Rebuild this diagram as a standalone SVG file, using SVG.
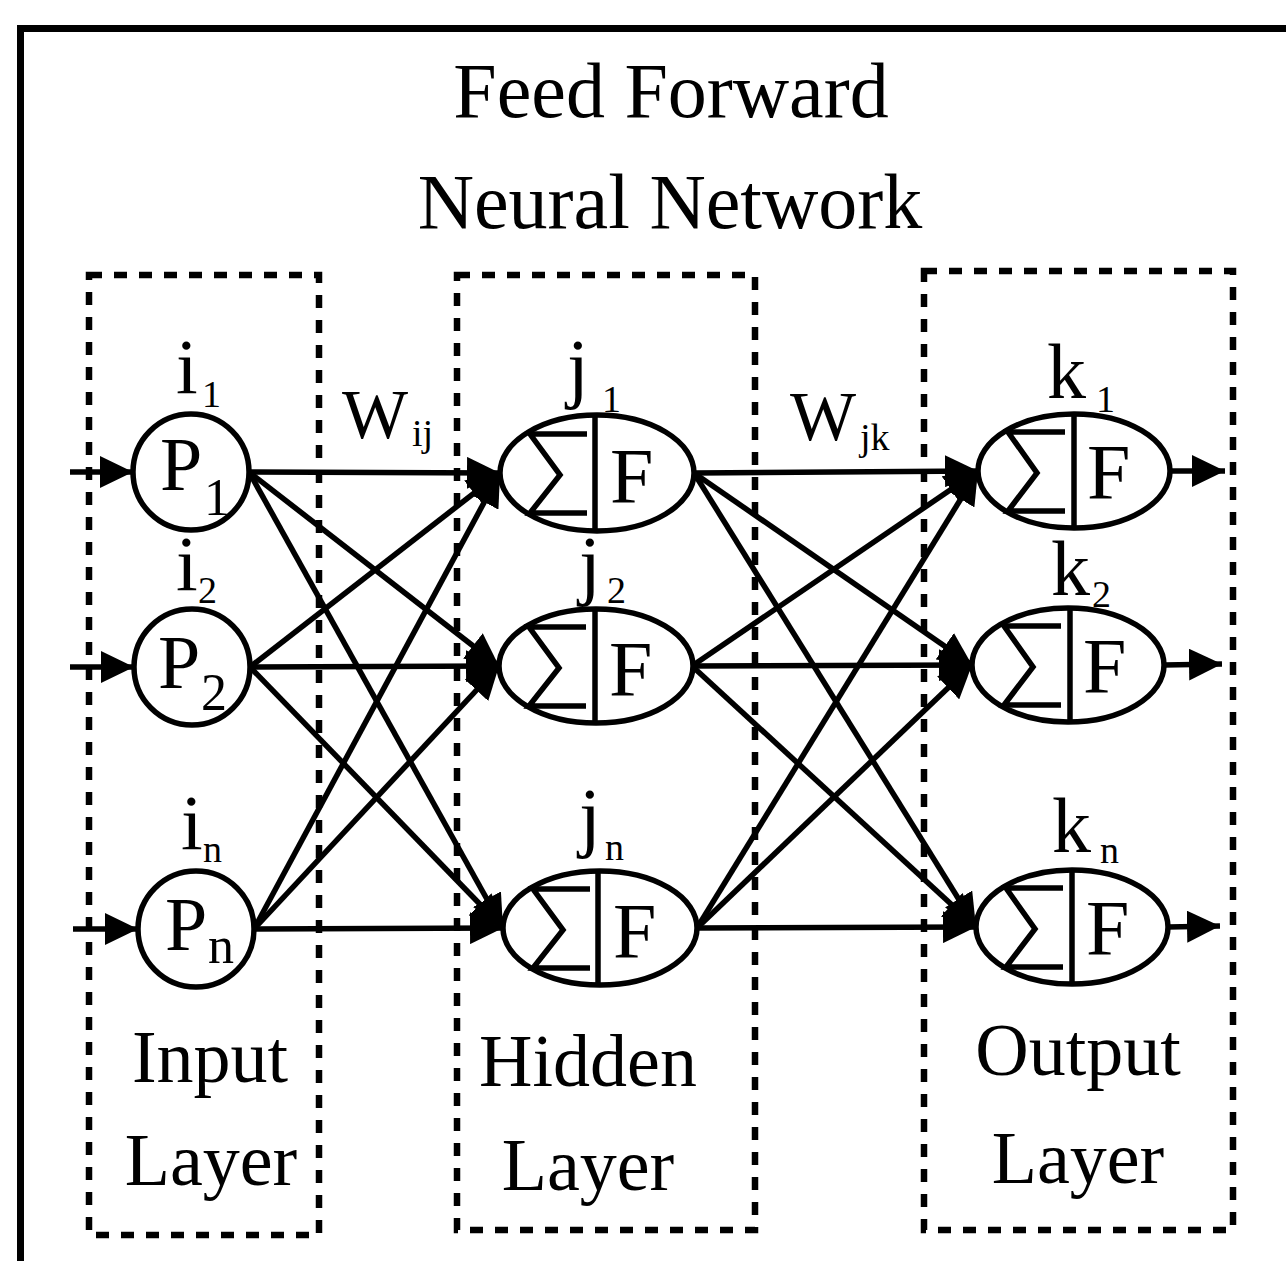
<svg xmlns="http://www.w3.org/2000/svg" width="1286" height="1261" viewBox="0 0 1286 1261">
<style>
text{font-family:"Liberation Serif","Times New Roman",serif;fill:#000}
.big{font-size:78px}
.pl{font-size:76px}
.lab{font-size:74px}
.sub{font-size:38px}
.psub{font-size:52px}
.box{fill:none;stroke:#000;stroke-width:6.5;stroke-dasharray:13 12}
.shape{fill:#fff;stroke:#000;stroke-width:5.5}
.ln{fill:none;stroke:#000;stroke-width:5.5}
.conn line{stroke:#000;stroke-width:5.5;marker-end:url(#ah)}
</style>
<defs>
<marker id="ah" markerUnits="userSpaceOnUse" markerWidth="34" markerHeight="32" refX="33" refY="16" orient="auto">
<path d="M0,0 L33,16 L0,32 Z" fill="#000"/>
</marker>
</defs>
<rect width="1286" height="1261" fill="#fff"/>
<path d="M20.5,1261 V28.5 H1286" fill="none" stroke="#000" stroke-width="7"/>
<g id="title">
<text class="big" x="671" y="117" text-anchor="middle">Feed Forward</text>
<text class="big" x="670" y="228" text-anchor="middle">Neural Network</text>
</g>
<g id="layer-boxes">
<rect class="box" x="89" y="275" width="230" height="960"/>
<rect class="box" x="457" y="275" width="298" height="955"/>
<rect class="box" x="924" y="271" width="309" height="959"/>
</g>
<g id="layer-labels">
<text class="lab" x="210" y="1082" text-anchor="middle">Input</text>
<text class="lab" x="211" y="1185" text-anchor="middle">Layer</text>
<text class="lab" x="588" y="1086" text-anchor="middle">Hidden</text>
<text class="lab" x="588" y="1190" text-anchor="middle">Layer</text>
<text class="lab" x="1078" y="1075" text-anchor="middle">Output</text>
<text class="lab" x="1078" y="1183" text-anchor="middle">Layer</text>
</g>
<g id="weights">
<text style="font-size:70px" x="342" y="438">W</text><text class="sub" x="412" y="446">ij</text>
<text style="font-size:70px" x="790" y="440">W</text><text class="sub" x="860" y="450">jk</text>
</g>
<g id="connectors" class="conn">
<line x1="70" y1="472" x2="133" y2="472"/>
<line x1="70" y1="667" x2="134" y2="667"/>
<line x1="73" y1="929" x2="138" y2="929"/>
<line x1="249" y1="472" x2="500" y2="473"/>
<line x1="249" y1="472" x2="499" y2="666"/>
<line x1="249" y1="472" x2="503" y2="928"/>
<line x1="250" y1="667" x2="500" y2="473"/>
<line x1="250" y1="667" x2="499" y2="666"/>
<line x1="250" y1="667" x2="503" y2="928"/>
<line x1="254" y1="929" x2="500" y2="473"/>
<line x1="254" y1="929" x2="499" y2="666"/>
<line x1="254" y1="929" x2="503" y2="928"/>
<line x1="694" y1="473" x2="978" y2="471"/>
<line x1="694" y1="473" x2="972" y2="665"/>
<line x1="694" y1="473" x2="976" y2="927"/>
<line x1="692" y1="666" x2="978" y2="471"/>
<line x1="692" y1="666" x2="972" y2="665"/>
<line x1="692" y1="666" x2="976" y2="927"/>
<line x1="697" y1="928" x2="978" y2="471"/>
<line x1="697" y1="928" x2="972" y2="665"/>
<line x1="697" y1="928" x2="976" y2="927"/>
<line x1="1170" y1="471" x2="1225" y2="471"/>
<line x1="1164" y1="665" x2="1222" y2="664"/>
<line x1="1168" y1="927" x2="1220" y2="926"/>
</g>
<g id="node-p1">
<circle class="shape" cx="191" cy="472" r="58"/>
<text class="pl" x="160" y="490">P</text><text class="psub" x="204" y="515">1</text>
<text class="big" x="176" y="393">i</text><text class="sub" x="202" y="407">1</text>
</g>
<g id="node-p2">
<circle class="shape" cx="192" cy="667" r="58"/>
<text class="pl" x="158" y="688">P</text><text class="psub" x="201" y="710">2</text>
<text class="big" x="176" y="590">i</text><text class="sub" x="198" y="603">2</text>
</g>
<g id="node-pn">
<circle class="shape" cx="196" cy="929" r="58"/>
<text class="pl" x="165" y="950">P</text><text class="psub" x="208" y="963">n</text>
<text class="big" x="181" y="849">i</text><text class="sub" x="203" y="862">n</text>
</g>
<g id="node-j1" transform="translate(597,473)">
<ellipse class="shape" rx="97" ry="58"/>
<line class="ln" x1="-2" y1="-58" x2="-2" y2="58"/>
<path class="ln" d="M-10,-39 H-67 L-37,2 L-67,40 H-10"/>
<text class="big" x="13" y="29">F</text>
<text class="big" x="-30" y="-80">j</text><text class="sub" x="5" y="-61">1</text>
</g>
<g id="node-j2" transform="translate(596,666)">
<ellipse class="shape" rx="97" ry="57"/>
<line class="ln" x1="-1" y1="-57" x2="-1" y2="57"/>
<path class="ln" d="M-10,-39 H-67 L-37,2 L-67,40 H-10"/>
<text class="big" x="13" y="29">F</text>
<text class="big" x="-17" y="-76">j</text><text class="sub" x="11" y="-63">2</text>
</g>
<g id="node-jn" transform="translate(600,928)">
<ellipse class="shape" rx="97" ry="57"/>
<line class="ln" x1="-2" y1="-57" x2="-2" y2="57"/>
<path class="ln" d="M-10,-39 H-67 L-37,2 L-67,40 H-10"/>
<text class="big" x="13" y="29">F</text>
<text class="big" x="-21" y="-86">j</text><text class="sub" x="5" y="-68">n</text>
</g>
<g id="node-k1" transform="translate(1074,471)">
<ellipse class="shape" rx="96" ry="57"/>
<line class="ln" x1="0" y1="-57" x2="0" y2="57"/>
<path class="ln" d="M-9,-39 H-66 L-37,2 L-66,40 H-9"/>
<text class="big" x="13" y="27">F</text>
<text class="big" x="-27" y="-73">k</text><text class="sub" x="22" y="-59">1</text>
</g>
<g id="node-k2" transform="translate(1068,665)">
<ellipse class="shape" rx="96" ry="57"/>
<line class="ln" x1="2" y1="-57" x2="2" y2="57"/>
<path class="ln" d="M-7,-39 H-64 L-35,2 L-64,40 H-7"/>
<text class="big" x="15" y="27">F</text>
<text class="big" x="-17" y="-70">k</text><text class="sub" x="24" y="-58">2</text>
</g>
<g id="node-kn" transform="translate(1072,927)">
<ellipse class="shape" rx="96" ry="57"/>
<line class="ln" x1="0" y1="-57" x2="0" y2="57"/>
<path class="ln" d="M-9,-39 H-66 L-37,2 L-66,40 H-9"/>
<text class="big" x="14" y="27">F</text>
<text class="big" x="-20" y="-75">k</text><text class="sub" x="28" y="-64">n</text>
</g>
</svg>
